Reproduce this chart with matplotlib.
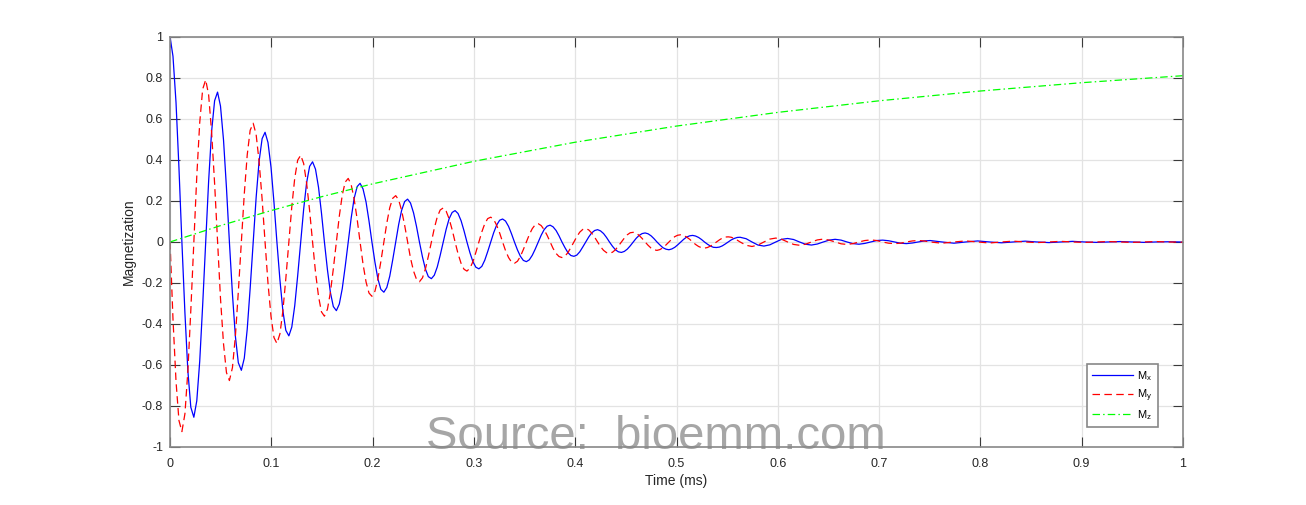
import matplotlib
matplotlib.use("Agg")
import matplotlib.pyplot as plt
from matplotlib.ticker import FixedLocator

plt.rcParams['font.family'] = ['Liberation Sans', 'DejaVu Sans']

# time axis (ms), sampled finely where the oscillation is large
t_ms = [
    0.0000, 0.0029, 0.0059, 0.0088, 0.0117, 0.0147, 0.0176, 0.0205, 0.0235, 0.0264, 0.0293, 0.0322, 0.0352, 0.0381, 0.0410, 0.0440,
    0.0469, 0.0498, 0.0528, 0.0557, 0.0586, 0.0616, 0.0645, 0.0674, 0.0704, 0.0733, 0.0762, 0.0791, 0.0821, 0.0850, 0.0879, 0.0909,
    0.0938, 0.0967, 0.0997, 0.1026, 0.1055, 0.1085, 0.1114, 0.1143, 0.1173, 0.1202, 0.1231, 0.1260, 0.1290, 0.1319, 0.1348, 0.1378,
    0.1407, 0.1436, 0.1466, 0.1495, 0.1524, 0.1554, 0.1583, 0.1612, 0.1642, 0.1671, 0.1700, 0.1729, 0.1759, 0.1788, 0.1817, 0.1847,
    0.1876, 0.1905, 0.1935, 0.1964, 0.1993, 0.2023, 0.2052, 0.2081, 0.2111, 0.2140, 0.2169, 0.2198, 0.2228, 0.2257, 0.2286, 0.2316,
    0.2345, 0.2374, 0.2404, 0.2433, 0.2462, 0.2492, 0.2521, 0.2550, 0.2580, 0.2609, 0.2638, 0.2667, 0.2697, 0.2726, 0.2755, 0.2785,
    0.2814, 0.2843, 0.2873, 0.2902, 0.2931, 0.2961, 0.2990, 0.3019, 0.3049, 0.3078, 0.3107, 0.3136, 0.3166, 0.3195, 0.3224, 0.3254,
    0.3283, 0.3312, 0.3342, 0.3371, 0.3400, 0.3430, 0.3459, 0.3488, 0.3518, 0.3547, 0.3576, 0.3605, 0.3635, 0.3664, 0.3693, 0.3723,
    0.3752, 0.3781, 0.3811, 0.3840, 0.3869, 0.3899, 0.3928, 0.3957, 0.3987, 0.4016, 0.4045, 0.4074, 0.4104, 0.4133, 0.4162, 0.4192,
    0.4221, 0.4250, 0.4280, 0.4309, 0.4338, 0.4368, 0.4397, 0.4426, 0.4456, 0.4485, 0.4514, 0.4543, 0.4573, 0.4602, 0.4631, 0.4661,
    0.4690, 0.4719, 0.4749, 0.4778, 0.4807, 0.4837, 0.4866, 0.4895, 0.4925, 0.4954, 0.4983, 0.5012, 0.5042, 0.5071, 0.5100, 0.5130,
    0.5159, 0.5188, 0.5218, 0.5247, 0.5276, 0.5306, 0.5335, 0.5364, 0.5394, 0.5423, 0.5452, 0.5481, 0.5511, 0.5540, 0.5569, 0.5599,
    0.5628, 0.5687, 0.5745, 0.5804, 0.5863, 0.5921, 0.5980, 0.6038,
    0.6097, 0.6156, 0.6214, 0.6273, 0.6332, 0.6390, 0.6449, 0.6507,
    0.6566, 0.6625, 0.6683, 0.6742, 0.6801, 0.6859, 0.6918, 0.6976,
    0.7035, 0.7094, 0.7152, 0.7211, 0.7270, 0.7328, 0.7387, 0.7445,
    0.7504, 0.7621, 0.7739, 0.7856,
    0.7973, 0.8090, 0.8208, 0.8325,
    0.8442, 0.8559, 0.8677, 0.8794,
    0.8911, 0.9028, 0.9146, 0.9263,
    0.9380, 0.9497, 0.9615, 0.9732,
    0.9849, 0.9966, 1.0000,
]

mx = [
    1.000, 0.906, 0.680, 0.361, 0.000, -0.347, -0.629, -0.806, -0.855, -0.775, -0.582, -0.309, 0.000, 0.297, 0.538, 0.689,
    0.731, 0.663, 0.497, 0.264, 0.000, -0.254, -0.460, -0.589, -0.626, -0.567, -0.425, -0.226, 0.000, 0.217, 0.393, 0.504,
    0.535, 0.485, 0.364, 0.193, 0.000, -0.186, -0.336, -0.431, -0.458, -0.415, -0.311, -0.165, 0.000, 0.159, 0.288, 0.369,
    0.391, 0.355, 0.266, 0.141, 0.000, -0.136, -0.246, -0.315, -0.335, -0.303, -0.228, -0.121, 0.000, 0.116, 0.211, 0.270,
    0.286, 0.259, 0.195, 0.103, 0.000, -0.099, -0.180, -0.231, -0.245, -0.222, -0.167, -0.088, 0.000, 0.085, 0.154, 0.197,
    0.209, 0.190, 0.142, 0.076, 0.000, -0.073, -0.132, -0.169, -0.179, -0.162, -0.122, -0.065, 0.000, 0.062, 0.113, 0.144,
    0.153, 0.139, 0.104, 0.055, 0.000, -0.053, -0.096, -0.123, -0.131, -0.119, -0.089, -0.047, 0.000, 0.045, 0.082, 0.106,
    0.112, 0.102, 0.076, 0.040, 0.000, -0.039, -0.070, -0.090, -0.096, -0.087, -0.065, -0.035, 0.000, 0.033, 0.060, 0.077,
    0.082, 0.074, 0.056, 0.030, 0.000, -0.028, -0.052, -0.066, -0.070, -0.064, -0.048, -0.025, 0.000, 0.024, 0.044, 0.056,
    0.060, 0.054, 0.041, 0.022, 0.000, -0.021, -0.038, -0.048, -0.051, -0.046, -0.035, -0.019, 0.000, 0.018, 0.032, 0.041,
    0.044, 0.040, 0.030, 0.016, 0.000, -0.015, -0.028, -0.035, -0.038, -0.034, -0.026, -0.014, 0.000, 0.013, 0.024, 0.030,
    0.032, 0.029, 0.022, 0.012, 0.000, -0.011, -0.020, -0.026, -0.027, -0.025, -0.019, -0.010, 0.000, 0.010, 0.017, 0.022,
    0.023, 0.016, 0.000, -0.015, -0.020, -0.014, 0.000, 0.013,
    0.017, 0.012, 0.000, -0.011, -0.015, -0.010, 0.000, 0.009,
    0.013, 0.009, 0.000, -0.008, -0.011, -0.007, 0.000, 0.007,
    0.009, 0.006, 0.000, -0.006, -0.008, -0.005, 0.000, 0.005,
    0.007, 0.000, -0.006, 0.000,
    0.005, 0.000, -0.004, 0.000,
    0.004, 0.000, -0.003, 0.000,
    0.003, 0.000, -0.002, 0.000,
    0.002, 0.000, -0.002, 0.000,
    0.001, 0.000, -0.001,
]

my = [
    0.000, -0.375, -0.680, -0.871, -0.925, -0.838, -0.629, -0.334, 0.000, 0.321, 0.582, 0.745, 0.791, 0.717, 0.538, 0.285,
    0.000, -0.275, -0.497, -0.637, -0.676, -0.613, -0.460, -0.244, 0.000, 0.235, 0.425, 0.545, 0.579, 0.524, 0.393, 0.209,
    0.000, -0.201, -0.364, -0.466, -0.495, -0.448, -0.336, -0.179, 0.000, 0.172, 0.311, 0.399, 0.423, 0.383, 0.288, 0.153,
    0.000, -0.147, -0.266, -0.341, -0.362, -0.328, -0.246, -0.131, 0.000, 0.126, 0.228, 0.292, 0.310, 0.280, 0.211, 0.112,
    0.000, -0.107, -0.195, -0.249, -0.265, -0.240, -0.180, -0.096, 0.000, 0.092, 0.167, 0.213, 0.226, 0.205, 0.154, 0.082,
    0.000, -0.079, -0.142, -0.182, -0.194, -0.175, -0.132, -0.070, 0.000, 0.067, 0.122, 0.156, 0.166, 0.150, 0.113, 0.060,
    0.000, -0.057, -0.104, -0.133, -0.142, -0.128, -0.096, -0.051, 0.000, 0.049, 0.089, 0.114, 0.121, 0.110, 0.082, 0.044,
    0.000, -0.042, -0.076, -0.098, -0.104, -0.094, -0.070, -0.037, 0.000, 0.036, 0.065, 0.084, 0.089, 0.080, 0.060, 0.032,
    0.000, -0.031, -0.056, -0.071, -0.076, -0.069, -0.052, -0.027, 0.000, 0.026, 0.048, 0.061, 0.065, 0.059, 0.044, 0.023,
    0.000, -0.023, -0.041, -0.052, -0.055, -0.050, -0.038, -0.020, 0.000, 0.019, 0.035, 0.045, 0.047, 0.043, 0.032, 0.017,
    0.000, -0.016, -0.030, -0.038, -0.041, -0.037, -0.028, -0.015, 0.000, 0.014, 0.026, 0.033, 0.035, 0.031, 0.024, 0.013,
    0.000, -0.012, -0.022, -0.028, -0.030, -0.027, -0.020, -0.011, 0.000, 0.010, 0.019, 0.024, 0.025, 0.023, 0.017, 0.009,
    0.000, -0.016, -0.022, -0.015, 0.000, 0.014, 0.019, 0.013,
    0.000, -0.012, -0.016, -0.011, 0.000, 0.010, 0.014, 0.009,
    0.000, -0.009, -0.012, -0.008, 0.000, 0.007, 0.010, 0.007,
    0.000, -0.006, -0.008, -0.006, 0.000, 0.005, 0.007, 0.005,
    0.000, -0.006, 0.000, 0.005,
    0.000, -0.005, 0.000, 0.004,
    0.000, -0.003, 0.000, 0.003,
    0.000, -0.002, 0.000, 0.002,
    0.000, -0.002, 0.000, 0.002,
    0.000, -0.001, -0.001,
]

# longitudinal recovery
t_z = [0.0, 0.05, 0.1, 0.15, 0.2, 0.3, 0.4, 0.5, 0.6, 0.7, 0.8, 0.9, 1.0]
mz = [0.0, 0.080, 0.1535, 0.2212, 0.2835, 0.3935, 0.4866, 0.5654, 0.6321, 0.6886, 0.7364, 0.7769, 0.8111]

x_ticks = [0, 0.1, 0.2, 0.3, 0.4, 0.5, 0.6, 0.7, 0.8, 0.9, 1]
x_labels = ['0', '0.1', '0.2', '0.3', '0.4', '0.5', '0.6', '0.7', '0.8', '0.9', '1']
y_ticks = [-1, -0.8, -0.6, -0.4, -0.2, 0, 0.2, 0.4, 0.6, 0.8, 1]
y_labels = ['-1', '-0.8', '-0.6', '-0.4', '-0.2', '0', '0.2', '0.4', '0.6', '0.8', '1']

fig = plt.figure(figsize=(13.06, 5.05), dpi=100)
ax = fig.add_axes([0.1302, 0.1149, 0.7756, 0.8119])

ax.plot(t_ms, mx, '-', color='#0000ff', lw=0.9, solid_joinstyle='round', label=r'M$_\mathregular{x}$')
ax.plot(t_ms, my, '--', color='#ff0000', lw=0.9, dashes=(6, 3.5), dash_joinstyle='round',
        label=r'M$_\mathregular{y}$')
ax.plot(t_z, mz, '-.', color='#00ff00', lw=0.9, dashes=(6, 2.5, 1.2, 2.5), label=r'M$_\mathregular{z}$')

ax.set_xlim(0, 1)
ax.set_ylim(-1, 1)
ax.xaxis.set_major_locator(FixedLocator(x_ticks))
ax.yaxis.set_major_locator(FixedLocator(y_ticks))
ax.set_xticklabels(x_labels)
ax.set_yticklabels(y_labels)
ax.tick_params(direction='in', length=7, width=0.8, color='#3a3a3a', labelcolor='#262626',
               labelsize=9, top=True, right=True, pad=5)
ax.tick_params(axis='x', pad=8)
ax.grid(True, color='#e3e3e3', lw=0.9)
ax.set_axisbelow(True)
for s in ax.spines.values():
    s.set_color('#888888')
    s.set_linewidth(1.2)

ax.set_xlabel('Time (ms)', fontsize=10, color='#262626', labelpad=3)
ax.set_ylabel('Magnetization', fontsize=10, color='#262626', labelpad=4)

leg = ax.legend(loc='lower right', bbox_to_anchor=(0.975, 0.049), borderaxespad=0,
                fontsize=8, handlelength=3.7, handletextpad=0.4, labelspacing=0.4,
                fancybox=False, framealpha=1, borderpad=0.45)
leg.get_frame().set_edgecolor('#888888')
leg.get_frame().set_linewidth(1.2)

# watermark sits under the axis line
ax.text(0.5023, 0.1109, 'Source:  bioemm.com', transform=fig.transFigure, fontsize=34,
        color='#a6a6a6', ha='center', va='baseline', zorder=2, clip_on=False)

fig.savefig('out.png', dpi=100)
